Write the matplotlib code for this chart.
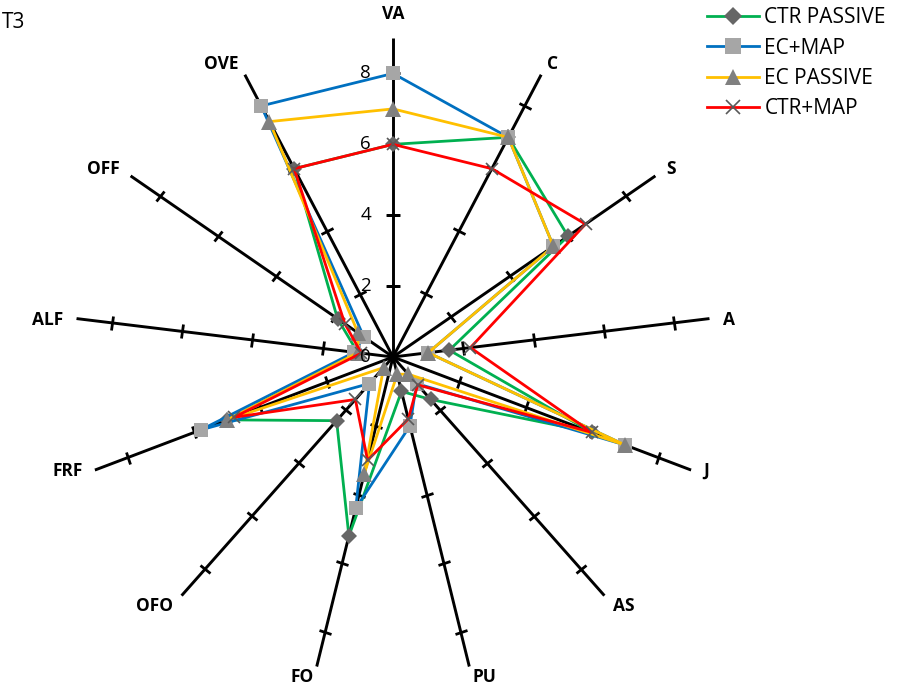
import numpy as np
import matplotlib
matplotlib.use("Agg")
import matplotlib.pyplot as plt
from matplotlib.markers import MarkerStyle
from matplotlib.transforms import Affine2D

# data (T3 radar)
categories = ["VA", "C", "S", "A", "J", "AS", "PU", "FO", "OFO", "FRF", "ALF", "OFF", "OVE"]
ctr_passive = [6, 7, 6.0, 1.6, 6, 1.6, 1.0, 5.2, 2.4, 5.0, 1.0, 1.9, 6]
ec_map = [8, 7, 5.5, 1.0, 7, 1.0, 2.0, 4.4, 1.0, 5.8, 1.1, 1.0, 8]
ec_passive = [7, 7, 5.5, 1.0, 7, 0.65, 0.5, 3.4, 0.4, 5.0, 1.0, 1.2, 7.5]
ctr_map = [6, 6, 6.6, 2.2, 6, 1.05, 1.8, 3.0, 1.6, 4.8, 0.9, 1.65, 6]
series_names = ["CTR PASSIVE", "EC+MAP", "EC PASSIVE", "CTR+MAP"]
r_ticks = [0, 2, 4, 6, 8]
r_max = 9

plt.rcParams['font.family'] = ['Open Sans', 'DejaVu Sans']

W, H = 898, 691
PX = 0.72  # points per pixel at dpi 100
fig = plt.figure(figsize=(W / 100, H / 100), dpi=100)
cx, cy, rad = 393, 357, 319
ax = fig.add_axes([(cx - rad) / W, (H - cy - rad) / H, 2 * rad / W, 2 * rad / H],
                  projection='polar')
ax.set_theta_zero_location('N')
ax.set_theta_direction(-1)
ax.set_ylim(0, r_max)
ax.set_axis_off()

n = len(categories)
theta = np.arange(n) * 2 * np.pi / n

# spokes with tick marks
for t in theta:
    ax.plot([t, t], [0, r_max], color='black', lw=2.1, zorder=1, solid_capstyle='butt')
    m = MarkerStyle('_', transform=Affine2D().rotate_deg(-np.degrees(t)))
    ax.plot([t] * (len(r_ticks) - 1), r_ticks[1:], ls='none', marker=m,
            ms=9.5, mew=2.0, color='black', zorder=1)

# value labels along VA
for v in r_ticks:
    ax.annotate(str(v), xy=(0, v), xytext=(-22 * PX, 0), textcoords='offset points',
                ha='right', va='center', fontsize=13.5, annotation_clip=False, zorder=20)

# category labels
for t, lab in zip(theta, categories):
    s, c = np.sin(t), np.cos(t)
    dx = 13 * s
    if s > 0.2:
        ha = 'left'
    elif s < -0.2:
        ha = 'right'
    else:
        ha = 'center'
    if c > 0.5:
        va = 'baseline'
        dy = 19 if abs(s) < 0.2 else (6 if c > 0.8 else 2)
    elif c < -0.5:
        va = 'top'
        dy = -1
    else:
        va = 'center'
        dy = -1
    ax.annotate(lab, xy=(t, r_max), xytext=(dx * PX, dy * PX), textcoords='offset points',
                ha=ha, va=va, fontsize=12.5, fontweight='bold', annotation_clip=False)

styles = [
    (ctr_passive, '#00B050', 'D', '#666666', 8),
    (ec_map, '#0070C0', 's', '#A6A6A6', 10.5),
    (ec_passive, '#FFC000', '^', '#808080', 11),
    (ctr_map, '#FF0000', 'x', '#595959', 9),
]
th_closed = np.append(theta, theta[0])
handles = []
for k, (vals, col, mk, mcol, ms) in enumerate(styles):
    v = np.append(vals, vals[0])
    ax.plot(th_closed, v, color=col, lw=2.0, zorder=2 + k, clip_on=False)
    ax.plot(theta, vals, ls='none', marker=mk, ms=ms, color=mcol, mec=mcol,
            mew=1.2 if mk == 'x' else 0, zorder=2 + k, clip_on=False)
    h, = ax.plot([], [], color=col, lw=2.0, marker=mk, ms=ms + 1, mfc=mcol, mec=mcol,
                 mew=1.2 if mk == 'x' else 0)
    handles.append(h)

fig.legend(handles, series_names, loc='upper left', bbox_to_anchor=(703 / W, 1 - 3 / H),
           frameon=False, fontsize=15, handlelength=2.5, handletextpad=0.25,
           labelspacing=0.45, borderaxespad=0.0, borderpad=0.2)

fig.text(2 / W, 1 - 23 / H, "T3", fontsize=15, ha='left', va='center')

fig.savefig("out.png", dpi=100)
